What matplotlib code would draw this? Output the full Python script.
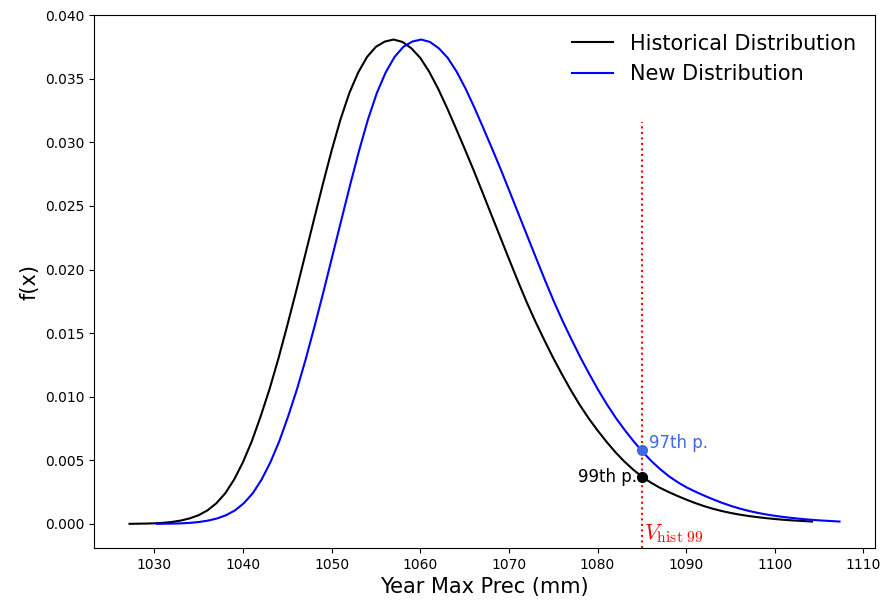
import matplotlib
matplotlib.use("Agg")
import matplotlib.pyplot as plt

# historical distribution (pdf)
hist_x = [1027.2, 1028, 1029, 1030, 1031, 1032, 1033, 1034, 1035, 1036, 1037, 1038,
          1039, 1040, 1041, 1042, 1043, 1044, 1045, 1046, 1047, 1048, 1049, 1050,
          1051, 1052, 1053, 1054, 1055, 1056, 1057, 1058, 1059, 1060, 1061, 1062,
          1063, 1064, 1065, 1066, 1067, 1068, 1069, 1070, 1071, 1072, 1073, 1074,
          1075, 1076, 1077, 1078, 1079, 1080, 1081, 1082, 1083, 1084, 1085, 1086,
          1087, 1088, 1089, 1090, 1091, 1092, 1093, 1094, 1095, 1096, 1097, 1098,
          1099, 1100, 1101, 1102, 1103, 1104, 1104.2]
hist_y = [0.00000, 0.00001, 0.00002, 0.00004, 0.00008, 0.00015, 0.00026, 0.00043,
          0.00068, 0.00106, 0.00162, 0.00240, 0.00348, 0.00485, 0.00650, 0.00846,
          0.01060, 0.01300, 0.01560, 0.01830, 0.02110, 0.02390, 0.02668, 0.02935,
          0.03180, 0.03388, 0.03550, 0.03672, 0.03752, 0.03793, 0.03809, 0.03790,
          0.03740, 0.03665, 0.03557, 0.03425, 0.03275, 0.03115, 0.02952, 0.02785,
          0.02611, 0.02435, 0.02260, 0.02085, 0.01912, 0.01745, 0.01590, 0.01445,
          0.01305, 0.01175, 0.01050, 0.00935, 0.00830, 0.00735, 0.00647, 0.00565,
          0.00492, 0.00428, 0.00372, 0.00325, 0.00285, 0.00251, 0.00220, 0.00191,
          0.00164, 0.00140, 0.00119, 0.00101, 0.00086, 0.00073, 0.00062, 0.00053,
          0.00045, 0.00038, 0.00032, 0.00027, 0.00023, 0.00019, 0.00018]

# new distribution (pdf)
new_x = [1030.3, 1031.1, 1032.1, 1033.1, 1034.1, 1035.1, 1036.1, 1037.1, 1038.1,
         1039.1, 1040.1, 1041.1, 1042.1, 1043.1, 1044.1, 1045.1, 1046.1, 1047.1,
         1048.1, 1049.1, 1050.1, 1051.1, 1052.1, 1053.1, 1054.1, 1055.1, 1056.1,
         1057.1, 1058.1, 1059.1, 1060.1, 1061.1, 1062.1, 1063.1, 1064.1, 1065.1,
         1066.1, 1067.1, 1068.1, 1069.1, 1070.1, 1071.1, 1072.1, 1073.1, 1074.1,
         1075.1, 1076.1, 1077.1, 1078.1, 1079.1, 1080.1, 1081.1, 1082.1, 1083.1,
         1084.1, 1085.1, 1086.1, 1087.1, 1088.1, 1089.1, 1090.1, 1091.1, 1092.1,
         1093.1, 1094.1, 1095.1, 1096.1, 1097.1, 1098.1, 1099.1, 1100.1, 1101.1,
         1102.1, 1103.1, 1104.1, 1105.1, 1106.1, 1107.1, 1107.3]
new_y = [0.00000, 0.00001, 0.00002, 0.00004, 0.00008, 0.00015, 0.00026, 0.00043,
         0.00068, 0.00106, 0.00162, 0.00240, 0.00348, 0.00485, 0.00650, 0.00846,
         0.01060, 0.01300, 0.01560, 0.01830, 0.02110, 0.02390, 0.02668, 0.02935,
         0.03180, 0.03388, 0.03550, 0.03672, 0.03752, 0.03793, 0.03809, 0.03790,
         0.03740, 0.03665, 0.03557, 0.03425, 0.03275, 0.03115, 0.02952, 0.02785,
         0.02611, 0.02435, 0.02260, 0.02085, 0.01912, 0.01745, 0.01590, 0.01445,
         0.01305, 0.01175, 0.01050, 0.00935, 0.00830, 0.00735, 0.00647, 0.00565,
         0.00492, 0.00428, 0.00372, 0.00325, 0.00285, 0.00251, 0.00220, 0.00191,
         0.00164, 0.00140, 0.00119, 0.00101, 0.00086, 0.00073, 0.00062, 0.00053,
         0.00045, 0.00038, 0.00032, 0.00027, 0.00023, 0.00019, 0.00018]

v_hist99 = 1085.0
f_hist99 = 0.00372
f_new97 = 0.00578

plt.rcParams['mathtext.fontset'] = 'cm'

fig = plt.figure(figsize=(8.83, 6.01), dpi=100)
ax = fig.add_axes([94/883, 53/601, 781/883, 533/601])

ax.plot(hist_x, hist_y, color='k', lw=1.5, label='Historical Distribution')
ax.plot(new_x, new_y, color='blue', lw=1.5, label='New Distribution')
ax.axvline(v_hist99, ymax=0.8, color='red', ls=':', lw=1.5)

ax.plot(v_hist99, f_hist99, 'o', color='k', ms=7)
ax.plot(v_hist99, f_new97, 'o', color='royalblue', ms=7)
ax.text(v_hist99 - 0.5, 0.0033, '99th p.', ha='right', va='baseline', fontsize=12, color='k')
ax.text(v_hist99 + 0.8, 0.0060, '97th p.', ha='left', va='baseline', fontsize=12, color='royalblue')
ax.text(v_hist99 + 0.3, -0.0012, r'$V_{\mathrm{hist\ 99}}$', ha='left', va='baseline',
        fontsize=16, color='red')

ax.set_ylim(-0.0019, 0.04002)
ax.set_xlabel('Year Max Prec (mm)', fontsize=15)
ax.set_ylabel('f(x)', fontsize=15)
ax.legend(fontsize=15, frameon=False, loc='upper right')

fig.savefig('out.png', dpi=100)
